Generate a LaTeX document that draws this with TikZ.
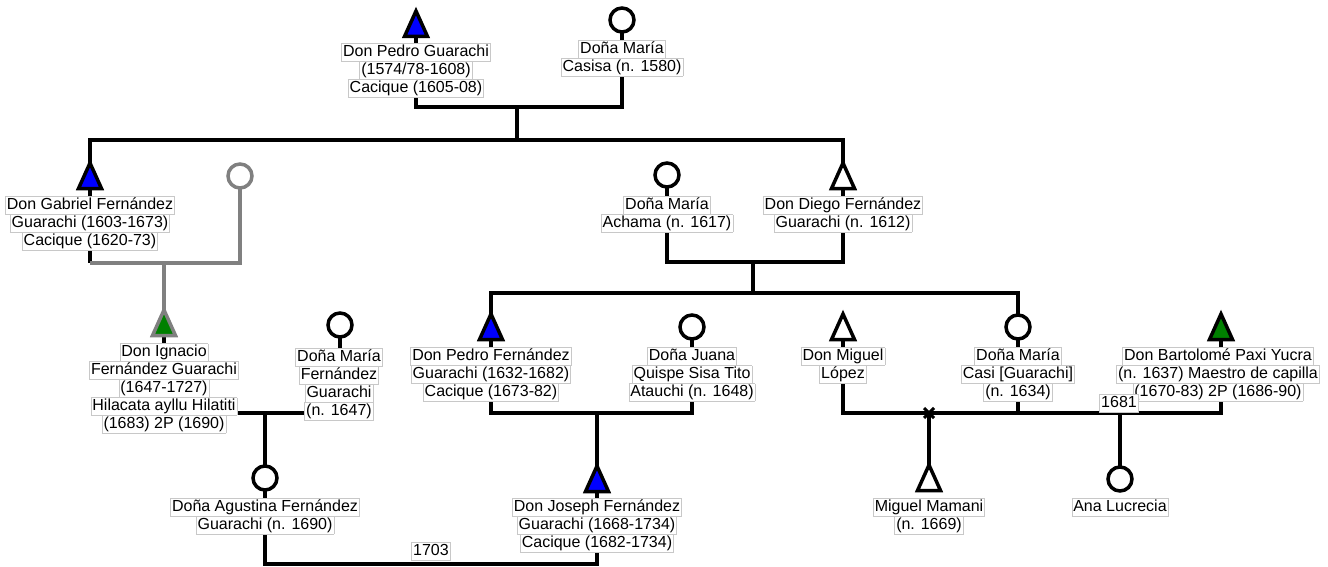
\documentclass[tikz,border=0pt]{standalone}
\usepackage{fontspec}
\setmainfont{Liberation Sans}
\definecolor{boxgray}{RGB}{200,200,200}
\definecolor{symgray}{RGB}{128,128,128}
\definecolor{dgreen}{RGB}{0,128,0}
\setlength{\fboxsep}{0pt}
\setlength{\fboxrule}{0.6pt}
\newcommand{\bxl}[1]{\fcolorbox{boxgray}{white}{\rule[-4pt]{0pt}{17pt}\kern1.2pt#1\kern1.2pt}}
\newcommand{\lblfont}{\fontsize{16}{18}\selectfont\setlength{\lineskiplimit}{-10pt}\setlength{\lineskip}{0pt}}
\tikzset{
  conn/.style={line width=3.5pt},
  lbl/.style={align=center, inner sep=0pt, font=\lblfont},
  pics/male/.style args={#1/#2}{code={\filldraw[line width=3.5pt, draw=#2, fill=#1] (0,-13) -- (11.5,12.5) -- (-11.5,12.5) -- cycle;}},
  pics/female/.style={code={\filldraw[line width=3.5pt, draw=#1, fill=white] (0,0) circle[radius=12pt];}},
}
\begin{document}
\begin{tikzpicture}[x=1pt,y=-1pt]
\useasboundingbox (0,0) rectangle (1328,567);
% person positions
\coordinate (pedro) at (416,24);
\coordinate (casisa) at (622,20);
\coordinate (m1) at (517,107);
\coordinate (s1) at (517,140);
\coordinate (gabriel) at (90,176);
\coordinate (grayw) at (240,176);
\coordinate (achama) at (667,175);
\coordinate (diego) at (843,176);
\coordinate (m2) at (164,263);
\coordinate (m2a) at (90,263);
\coordinate (m3) at (753,262);
\coordinate (s2) at (753,293);
\coordinate (ignacio) at (164,323);
\coordinate (mariafg) at (340,325);
\coordinate (pedrof) at (491,327);
\coordinate (juana) at (692,327);
\coordinate (miguel) at (843,327);
\coordinate (mariacasi) at (1018,327);
\coordinate (bartolome) at (1221,327);
\coordinate (m4) at (265,413);
\coordinate (m5) at (597,413);
\coordinate (m6) at (929,413);
\coordinate (m7) at (1120,413);
\coordinate (agustina) at (265,478);
\coordinate (joseph) at (597,479);
\coordinate (mamani) at (929,478);
\coordinate (ana) at (1120,479);
\coordinate (m8) at (431,564);
% connectors
\draw[conn] (pedro) |- (m1) -| (casisa);
\draw[conn] (m1) -- (s1);
\draw[conn] (gabriel) |- (s1) -| (diego);
\draw[conn] (gabriel) -- (m2a);
\draw[conn, symgray] (m2a) -- (m2) -| (grayw);
\draw[conn, symgray] (m2) -- (ignacio);
\draw[conn] (achama) |- (m3) -| (diego);
\draw[conn] (m3) -- (s2);
\draw[conn] (pedrof) |- (s2) -| (mariacasi);
\draw[conn] (ignacio) |- (m4) -| (mariafg);
\draw[conn] (m4) -- (agustina);
\draw[conn] (pedrof) |- (m5) -| (juana);
\draw[conn] (m5) -- (joseph);
\draw[conn] (miguel) |- (m7) -| (bartolome);
\draw[conn] (mariacasi) -- (mariacasi |- m6);
\draw[conn] (m6) -- (mamani);
\draw[conn] (m7) -- (ana);
\draw[conn] (agustina) |- (m8) -| (joseph);
\draw[line width=3pt] ([xshift=-5pt,yshift=5pt]m6) -- ([xshift=5pt,yshift=-5pt]m6)
  ([xshift=-5pt,yshift=-5pt]m6) -- ([xshift=5pt,yshift=5pt]m6);
% symbols
\pic at (pedro) {male=blue/black};
\pic at (casisa) {female=black};
\pic at (gabriel) {male=blue/black};
\pic at (grayw) {female=symgray};
\pic at (achama) {female=black};
\pic at (diego) {male=white/black};
\pic at (ignacio) {male=dgreen/symgray};
\pic at (mariafg) {female=black};
\pic at (pedrof) {male=blue/black};
\pic at (juana) {female=black};
\pic at (miguel) {male=white/black};
\pic at (mariacasi) {female=black};
\pic at (bartolome) {male=dgreen/black};
\pic at (agustina) {female=black};
\pic at (joseph) {male=blue/black};
\pic at (mamani) {male=white/black};
\pic at (ana) {female=black};
% labels
\node[lbl, anchor=north] (pedroL) at (416,43) {\bxl{Don Pedro Guarachi}\\\bxl{(1574/78-1608)}\\\bxl{Cacique (1605-08)}};
\node[lbl, anchor=north] (casisaL) at (622,40) {\bxl{Doña María}\\\bxl{Casisa (n. 1580)}};
\node[lbl, anchor=north] (gabrielL) at (90,196) {\bxl{Don Gabriel Fernández}\\\bxl{Guarachi (1603-1673)}\\\bxl{Cacique (1620-73)}};
\node[lbl, anchor=north] (achamaL) at (667,196) {\bxl{Doña María}\\\bxl{Achama (n. 1617)}};
\node[lbl, anchor=north] (diegoL) at (843,196) {\bxl{Don Diego Fernández}\\\bxl{Guarachi (n. 1612)}};
\node[lbl, anchor=north] (ignacioL) at (164,343) {\bxl{Don Ignacio}\\\bxl{Fernández Guarachi}\\\bxl{(1647-1727)}\\\bxl{Hilacata ayllu Hilatiti}\\\bxl{(1683) 2P (1690)}};
\node[lbl, anchor=north] (mariafgL) at (339,348) {\bxl{Doña María}\\\bxl{Fernández}\\\bxl{Guarachi}\\\bxl{(n. 1647)}};
\node[lbl, anchor=north] (pedrofL) at (491,347) {\bxl{Don Pedro Fernández}\\\bxl{Guarachi (1632-1682)}\\\bxl{Cacique (1673-82)}};
\node[lbl, anchor=north] (juanaL) at (692,347) {\bxl{Doña Juana}\\\bxl{Quispe Sisa Tito}\\\bxl{Atauchi (n. 1648)}};
\node[lbl, anchor=north] (miguelL) at (843,347) {\bxl{Don Miguel}\\\bxl{López}};
\node[lbl, anchor=north] (mariacasiL) at (1018,347) {\bxl{Doña María}\\\bxl{Casi [Guarachi]}\\\bxl{(n. 1634)}};
\node[lbl, anchor=north] (bartolomeL) at (1218,347) {\bxl{Don Bartolomé Paxi Yucra}\\\bxl{(n. 1637) Maestro de capilla}\\\bxl{(1670-83) 2P (1686-90)}};
\node[lbl, anchor=north] (agustinaL) at (265,498) {\bxl{Doña Agustina Fernández}\\\bxl{Guarachi (n. 1690)}};
\node[lbl, anchor=north] (josephL) at (597,498) {\bxl{Don Joseph Fernández}\\\bxl{Guarachi (1668-1734)}\\\bxl{Cacique (1682-1734)}};
\node[lbl, anchor=north] (mamaniL) at (929,498) {\bxl{Miguel Mamani}\\\bxl{(n. 1669)}};
\node[lbl, anchor=north] (anaL) at (1120,498) {\bxl{Ana Lucrecia}};
\node[lbl] (y1681) at (1119,403) {\bxl{1681}};
\node[lbl] (y1703) at (431,551) {\bxl{1703}};
\end{tikzpicture}
\end{document}
